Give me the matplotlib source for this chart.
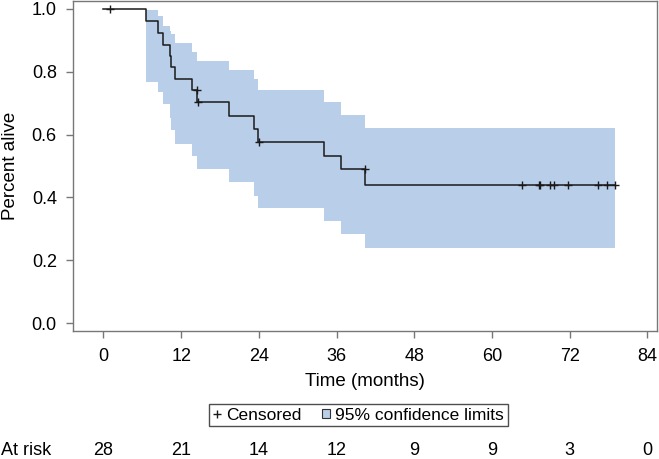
import matplotlib
matplotlib.use('Agg')
import matplotlib.pyplot as plt
from matplotlib.lines import Line2D
from matplotlib.patches import Patch
import matplotlib.transforms as mtransforms

plt.rcParams['font.family'] = ['Liberation Sans', 'DejaVu Sans']

# Kaplan-Meier step curve
step_times = [0, 6.6, 8.5, 9.27, 10.3, 10.45, 11.07, 13.65, 14.5, 19.4, 23.2, 23.9, 34.0, 36.7, 40.45, 79.0]
step_surv = [1.0, 0.962, 0.923, 0.885, 0.851, 0.814, 0.775, 0.740, 0.702, 0.659, 0.619, 0.576, 0.532, 0.489, 0.439, 0.439]

# 95% confidence band
band_times = [6.6, 8.5, 9.27, 10.3, 10.45, 11.07, 13.65, 14.5, 19.4, 23.2, 23.9, 34.0, 36.7, 40.45, 79.0]
band_upper = [0.995, 0.978, 0.946, 0.930, 0.920, 0.892, 0.863, 0.835, 0.806, 0.775, 0.740, 0.703, 0.663, 0.621, 0.621]
band_lower = [0.766, 0.734, 0.698, 0.651, 0.613, 0.571, 0.533, 0.491, 0.449, 0.406, 0.367, 0.325, 0.285, 0.239, 0.239]

# censored observations
cens_times = [1.03, 14.45, 14.55, 24.05, 40.4, 64.7, 67.2, 67.5, 69.0, 69.6, 71.7, 76.4, 77.8, 79.0]
cens_surv = [1.0, 0.740, 0.702, 0.576, 0.489, 0.439, 0.439, 0.439, 0.439, 0.439, 0.439, 0.439, 0.439, 0.439]

x_ticks = [0, 12, 24, 36, 48, 60, 72, 84]
y_ticks = [0.0, 0.2, 0.4, 0.6, 0.8, 1.0]
at_risk = [28, 21, 14, 12, 9, 9, 3, 0]

band_color = '#b9cee8'
frame_color = '#777777'

fig = plt.figure(figsize=(6.59, 4.59), dpi=100)
ax = fig.add_axes([0.1115, 0.2789, 0.8855, 0.7195])

ax.fill_between(band_times, band_lower, band_upper, step='post', color=band_color, lw=0)
ax.step(step_times, step_surv, where='post', color='#1a1a1a', lw=1.1)
ax.plot(cens_times, cens_surv, ls='none', marker='+', ms=6, mew=1.0, color='#1a1a1a')

ax.set_xlim(-4.63, 85.5)
ax.set_ylim(-0.024, 1.025)
ax.set_xticks(x_ticks)
ax.set_yticks(y_ticks)
ax.set_yticklabels([f'{v:.1f}' for v in y_ticks])
ax.tick_params(axis='both', labelsize=13, length=5, width=1, color=frame_color, pad=7)
for sp in ax.spines.values():
    sp.set_color(frame_color)
    sp.set_linewidth(1)

ax.set_xlabel('Time (months)', fontsize=13.5, labelpad=6)
ax.set_ylabel('Percent alive', fontsize=13.5)
ax.yaxis.set_label_coords(-0.093, 0.5)

# legend
handles = [Line2D([], [], ls='none', marker='+', ms=6, mew=1.0, color='#1a1a1a'),
           Patch(facecolor=band_color, edgecolor='#333333', lw=0.8)]
leg = fig.legend(handles, ['Censored', '95% confidence limits'], loc='center',
                 bbox_to_anchor=(0.5439, 0.0955), ncol=2, fontsize=12.5,
                 frameon=True, fancybox=False, handlelength=0.45, handleheight=0.45,
                 handletextpad=0.3, columnspacing=1.2, borderpad=0.22, borderaxespad=0)
leg.get_frame().set_edgecolor('#222222')
leg.get_frame().set_linewidth(1)

# number at risk row
trans = mtransforms.blended_transform_factory(ax.transData, fig.transFigure)
fig.text(0.002, 0.0196, 'At risk', fontsize=13, va='center', ha='left')
for t, n in zip(x_ticks, at_risk):
    ax.text(t, 0.0196, str(n), transform=trans, fontsize=13, va='center', ha='center')

fig.savefig('out.png', dpi=100)
